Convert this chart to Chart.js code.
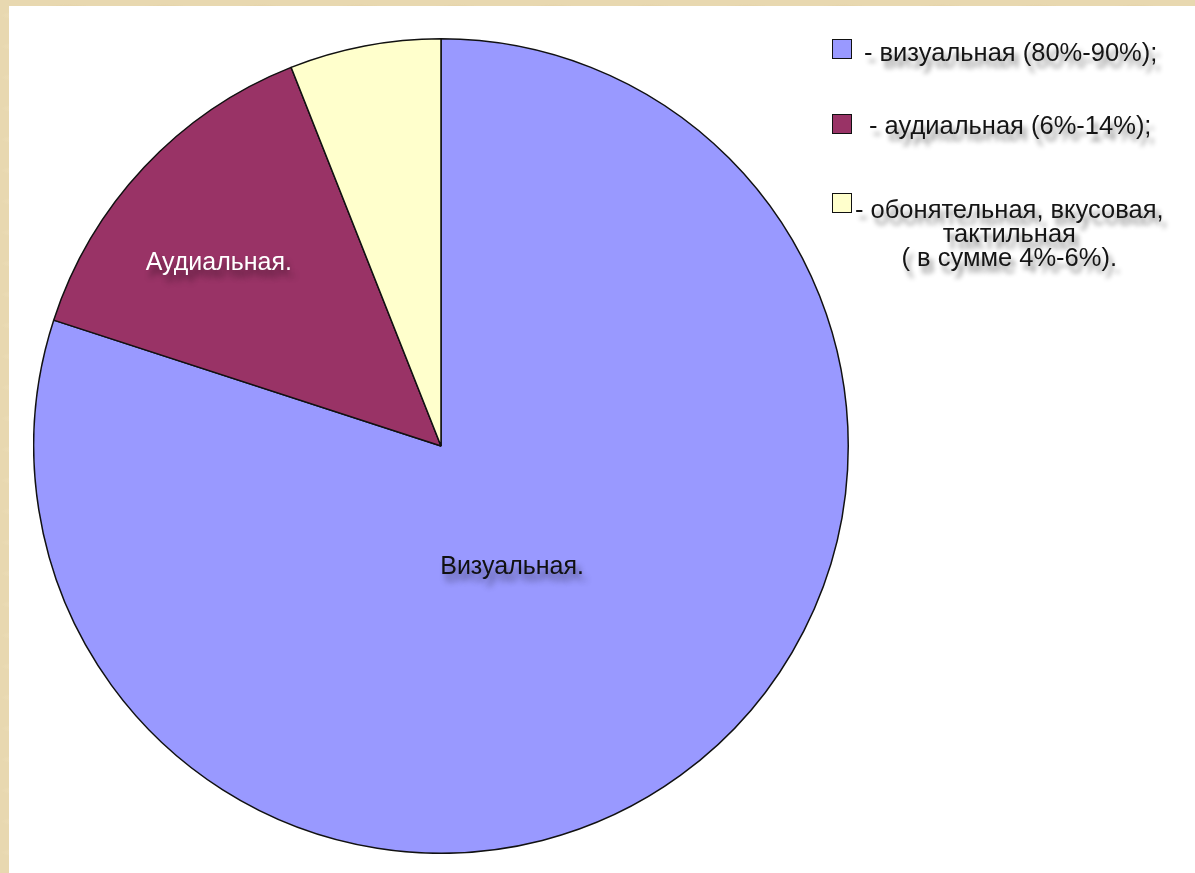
<!DOCTYPE html>
<html>
<head>
<meta charset="utf-8">
<script src="https://cdn.jsdelivr.net/npm/chart.js@4"></script>
<style>
  html, body { margin:0; padding:0; width:1195px; height:873px; overflow:hidden; }
  body {
    background-color:#e8d8b0;
    background-image:
      radial-gradient(ellipse 40px 6px at 30% 50%, rgba(248,236,205,0.8), rgba(248,236,205,0)),
      radial-gradient(ellipse 30px 5px at 70% 40%, rgba(215,192,140,0.6), rgba(215,192,140,0));
    background-size: 137px 31px, 97px 23px;
    font-family: "Liberation Sans", Arial, sans-serif;
  }
  #panel { position:absolute; left:9px; top:6px; right:0; bottom:0; background:#fff; }
  #chartBox { position:absolute; left:33px; top:38px; width:816px; height:816px; }
  #legend { position:absolute; left:0; top:0; }
  .item { position:absolute; font-size:25.5px; line-height:24px; color:#151515;
          text-shadow: 4px 7px 5px rgba(0,0,0,0.45); white-space:nowrap; }
  .sw { position:absolute; width:18px; height:18px; border:1.5px solid #111; }
</style>
</head>
<body>
<div id="panel"></div>
<div id="chartBox"><canvas id="c" width="816" height="816"></canvas></div>
<div id="legend"></div>
<script>
// ---- data ----
const categories = ['Визуальная.', 'Аудиальная.', 'Обонятельная, вкусовая, тактильная'];
const shares = [80, 14, 6];
const sliceColors = ['#9999FF', '#993366', '#FFFFCC'];
const sliceLabels = ['Визуальная.', 'Аудиальная.', ''];
const legendLines = [
  ['- визуальная (80%-90%);'],
  ['- аудиальная (6%-14%);'],
  ['- обонятельная, вкусовая,', 'тактильная', '( в сумме 4%-6%).']
];

// ---- styles (positions) ----
const labelStyle = [
  { frac: 0.345, turnDeg: 5.6, color: '#111111' },
  { frac: 0.707, turnDeg: -3.7, color: '#ffffff' },
  null
];
const legendPos = [
  { sx: 832, sy: 39, tx: 864, ty: 40 },
  { sx: 832, sy: 114, tx: 869, ty: 113 },
  { sx: 832, sy: 193, tx: 855, ty: 197 }
];

// build HTML legend
const leg = document.getElementById('legend');
legendLines.forEach((lines, i) => {
  const p = legendPos[i];
  const sw = document.createElement('div');
  sw.className = 'sw';
  sw.style.left = p.sx + 'px'; sw.style.top = p.sy + 'px';
  sw.style.background = sliceColors[i];
  leg.appendChild(sw);
  const t = document.createElement('div');
  t.className = 'item';
  t.style.left = p.tx + 'px'; t.style.top = p.ty + 'px';
  const inner = document.createElement('div');
  inner.style.textAlign = 'center';
  inner.innerHTML = lines.map(l => '<div>' + l.replace(/ /g,'&nbsp;') + '</div>').join('');
  t.appendChild(inner);
  leg.appendChild(t);
});

const sliceLabelPlugin = {
  id: 'sliceLabels',
  afterDatasetsDraw(chart) {
    const ctx = chart.ctx;
    const meta = chart.getDatasetMeta(0);
    meta.data.forEach((arc, i) => {
      const st = labelStyle[i];
      if (!st || !sliceLabels[i]) return;
      const p = arc.getProps(['x','y','startAngle','endAngle','outerRadius'], true);
      const a = (p.startAngle + p.endAngle) / 2 + st.turnDeg * Math.PI / 180;
      const r = p.outerRadius * st.frac;
      const x = p.x + Math.cos(a) * r;
      const y = p.y + Math.sin(a) * r;
      ctx.save();
      ctx.font = '25px "Liberation Sans", Arial, sans-serif';
      ctx.textAlign = 'center';
      ctx.textBaseline = 'middle';
      ctx.shadowColor = 'rgba(0,0,0,0.45)';
      ctx.shadowBlur = 6;
      ctx.shadowOffsetX = 4;
      ctx.shadowOffsetY = 7;
      ctx.fillStyle = st.color;
      ctx.fillText(sliceLabels[i], x, y);
      ctx.restore();
    });
  }
};

new Chart(document.getElementById('c'), {
  type: 'pie',
  data: {
    labels: categories,
    datasets: [{
      data: shares,
      backgroundColor: sliceColors,
      borderColor: '#111111',
      borderWidth: 1.5
    }]
  },
  options: {
    responsive: false,
    animation: false,
    layout: { padding: 0 },
    plugins: { legend: { display: false }, tooltip: { enabled: false } }
  },
  plugins: [sliceLabelPlugin]
});
</script>
</body>
</html>
